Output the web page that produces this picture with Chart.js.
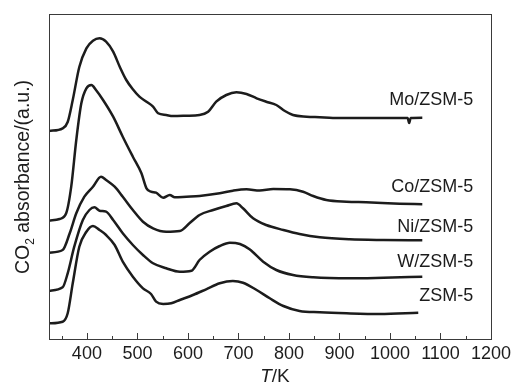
<!DOCTYPE html>
<html>
<head>
<meta charset="utf-8">
<script src="https://cdn.jsdelivr.net/npm/chart.js@4.4.1/dist/chart.umd.min.js"></script>
<style>
  html, body { margin: 0; padding: 0; background: #fff; }
  #wrap { width: 516px; height: 385px; }
</style>
</head>
<body>
<div id="wrap"><canvas id="tpdChart" width="516" height="385"></canvas></div>
<script>
// CO2-TPD curves, heights in arbitrary units (stacked by offset)
const seriesNames = ["Mo/ZSM-5", "Co/ZSM-5", "Ni/ZSM-5", "W/ZSM-5", "ZSM-5"];

const moT = [325, 352, 362, 372, 385, 399, 412, 425, 438, 452, 465, 478, 491, 504, 518, 531, 541, 557, 570, 597, 623, 640, 656, 676, 696, 716, 736, 755, 775, 792, 808, 835, 861, 887, 953, 1019, 1035, 1038, 1041, 1064];
const moA = [208, 210.7, 217, 239, 272, 290.7, 298.3, 300.7, 297.3, 287.3, 272.3, 259, 249.7, 242.3, 237.3, 232.3, 225.7, 224, 223, 223.3, 224, 227.3, 237.3, 244, 246.7, 245, 240.7, 237.3, 234, 228, 224, 222.3, 221.7, 221, 221, 221, 221, 216, 221, 221.3];

const coT = [325, 346, 359, 369, 379, 389, 399, 409, 418, 432, 452, 471, 491, 508, 518, 527, 537, 551, 564, 574, 597, 623, 663, 689, 716, 742, 769, 802, 828, 848, 874, 914, 953, 1019, 1064];
const coA = [118.3, 120, 125.7, 152.3, 199, 235.7, 250.7, 254, 249, 239, 222.3, 202.3, 182.3, 165.7, 150.7, 147.3, 146.3, 141.3, 144, 141.7, 142.3, 143, 145.7, 148.3, 149.7, 148.5, 150, 149.7, 147.3, 143, 139, 137.3, 136.7, 135.3, 134.7];

const niT = [325, 352, 366, 379, 395, 412, 428, 438, 455, 471, 491, 511, 531, 557, 584, 603, 623, 650, 676, 696, 709, 729, 755, 789, 821, 861, 920, 987, 1064];
const niA = [86.3, 89, 105.7, 125.7, 142.3, 152.3, 162.3, 159, 152.3, 142.3, 129, 117.3, 110.7, 107.3, 108, 115.7, 124, 129, 133, 135.7, 130.7, 120.7, 114, 109, 105, 101.7, 99.7, 99, 98.7];

const wT = [325, 352, 362, 375, 392, 405, 415, 425, 438, 452, 471, 491, 511, 531, 557, 584, 607, 623, 643, 663, 683, 703, 722, 749, 775, 808, 848, 920, 987, 1064];
const wA = [48.3, 51.7, 65.7, 92.3, 119, 129, 131.7, 128.3, 127.3, 119, 105.7, 94, 84, 75.7, 70.7, 67.3, 68.3, 79, 87.3, 93, 96.3, 95, 89.7, 77.3, 69, 64, 61.7, 60.7, 61.3, 62.3];

const zT = [325, 352, 362, 372, 385, 399, 412, 425, 438, 455, 471, 491, 511, 527, 537, 551, 567, 584, 610, 636, 663, 689, 709, 736, 762, 789, 821, 861, 914, 980, 1056];
const zA = [15.7, 17.3, 25.7, 55.7, 92.3, 107.3, 113, 109, 104, 94, 77.3, 62.3, 50.7, 45, 37.3, 35, 35.7, 39, 44, 49.7, 55.7, 58, 56.3, 49, 40.7, 33, 28, 26.7, 25.7, 25, 26.3];

const tickVals = [400, 500, 600, 700, 800, 900, 1000, 1100, 1200];
const minorVals = [350, 450, 550, 650, 750, 850, 950, 1050, 1150];
const labelT = 1165;
const labelY = [239, 152, 112, 77, 43];

const allT = [moT, coT, niT, wT, zT];
const allA = [moA, coA, niA, wA, zA];

const FONT = "'Liberation Sans', Arial, Helvetica, sans-serif";
const INK = "#1c1c1c";

const decor = {
  id: "decor",
  afterDraw(chart) {
    const ctx = chart.ctx;
    const a = chart.chartArea;
    const xs = chart.scales.x, ys = chart.scales.y;
    ctx.save();
    // frame
    ctx.strokeStyle = "#3a3a3a";
    ctx.lineWidth = 1;
    ctx.strokeRect(Math.round(a.left) + 0.5, Math.round(a.top) + 0.5, Math.round(a.right - a.left), Math.round(a.bottom - a.top));
    // inward ticks on bottom axis
    ctx.beginPath();
    tickVals.forEach(v => {
      const px = Math.round(xs.getPixelForValue(v)) + 0.5;
      ctx.moveTo(px, a.bottom); ctx.lineTo(px, a.bottom - 6);
    });
    minorVals.forEach(v => {
      const px = Math.round(xs.getPixelForValue(v)) + 0.5;
      ctx.moveTo(px, a.bottom); ctx.lineTo(px, a.bottom - 3);
    });
    ctx.stroke();

    ctx.fillStyle = INK;
    // series labels
    ctx.font = "18px " + FONT;
    ctx.textAlign = "right";
    ctx.textBaseline = "middle";
    seriesNames.forEach((n, i) => {
      ctx.fillText(n, xs.getPixelForValue(labelT), ys.getPixelForValue(labelY[i]));
    });

    // x title: italic T then /K
    ctx.textBaseline = "middle";
    ctx.textAlign = "left";
    const cx = (a.left + a.right) / 2 + 5, cy = 377;
    ctx.font = "italic 19px " + FONT;
    const wT1 = ctx.measureText("T").width;
    ctx.font = "19px " + FONT;
    const wK = ctx.measureText("/K").width;
    let x0 = cx - (wT1 + wK) / 2;
    ctx.font = "italic 19px " + FONT;
    ctx.fillText("T", x0, cy);
    ctx.font = "19px " + FONT;
    ctx.fillText("/K", x0 + wT1, cy);

    // y title with subscript 2
    ctx.translate(24, 177);
    ctx.rotate(-Math.PI / 2);
    ctx.textBaseline = "middle";
    const p1 = "CO", p2 = "2", p3 = " absorbance/(a.u.)";
    ctx.font = "19.5px " + FONT;
    const w1 = ctx.measureText(p1).width, w3 = ctx.measureText(p3).width;
    ctx.font = "12px " + FONT;
    const w2 = ctx.measureText(p2).width;
    let sx = -(w1 + w2 + w3) / 2;
    ctx.font = "19.5px " + FONT;
    ctx.fillText(p1, sx, 0);
    ctx.font = "12px " + FONT;
    ctx.fillText(p2, sx + w1, 7);
    ctx.font = "19.5px " + FONT;
    ctx.fillText(p3, sx + w1 + w2, 0);
    ctx.restore();
  }
};

const datasets = seriesNames.map((n, i) => ({
  label: n,
  data: allT[i].map((t, j) => ({ x: t, y: allA[i][j] })),
  borderColor: INK,
  borderWidth: 2.5,
  pointRadius: 0,
  fill: false,
  cubicInterpolationMode: "monotone"
}));

new Chart(document.getElementById("tpdChart").getContext("2d"), {
  type: "line",
  data: { datasets },
  plugins: [decor],
  options: {
    responsive: false,
    animation: false,
    layout: { padding: { top: 14, right: 25, left: 0, bottom: 0 } },
    plugins: { legend: { display: false }, tooltip: { enabled: false } },
    scales: {
      x: {
        type: "linear",
        min: 325,
        max: 1200,
        afterBuildTicks: s => { s.ticks = tickVals.map(v => ({ value: v })); },
        afterFit: s => { s.height = 46; },
        grid: { display: false, drawTicks: false },
        border: { display: false },
        ticks: {
          color: INK,
          font: { family: FONT, size: 18 },
          padding: 4,
          maxRotation: 0,
          autoSkip: false,
          callback: v => String(v)
        }
      },
      y: {
        min: 0,
        max: 325,
        afterFit: s => { s.width = 49; },
        grid: { display: false, drawTicks: false },
        border: { display: false },
        ticks: { display: false }
      }
    }
  }
});
</script>
</body>
</html>
